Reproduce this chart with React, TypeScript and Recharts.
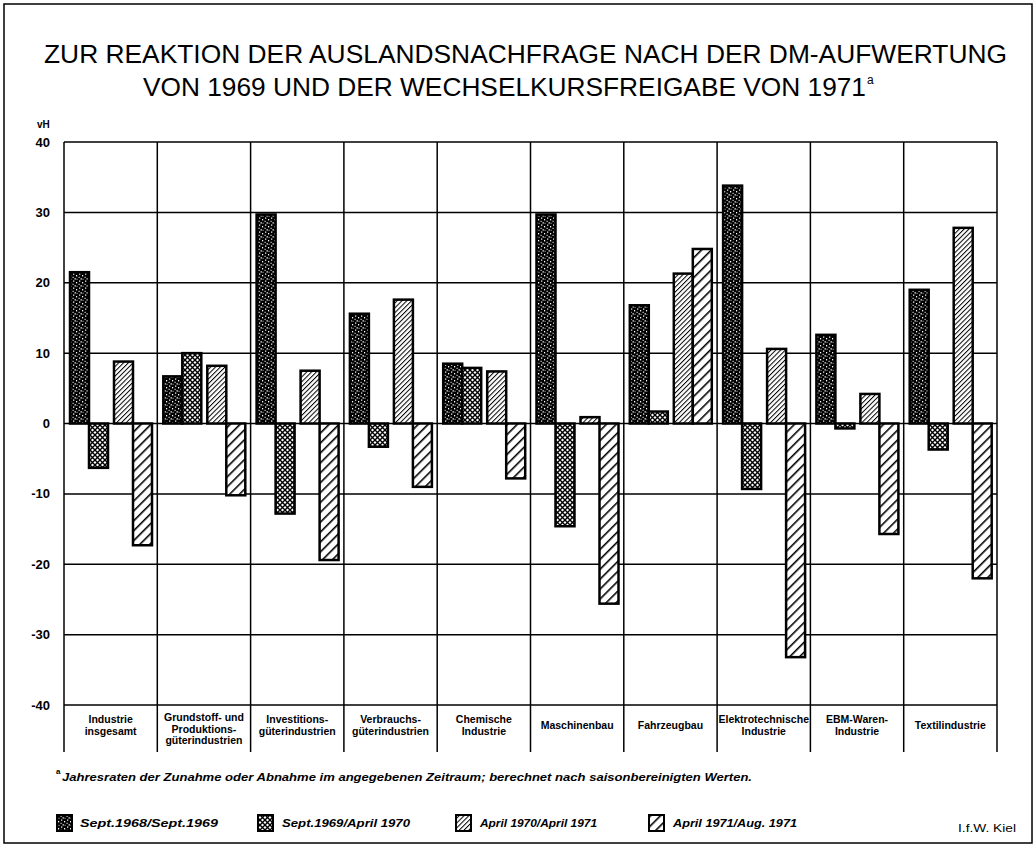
import { BarChart, Bar, XAxis, YAxis, CartesianGrid } from "recharts";

// Kategorien (Zeilenumbruch = \n)
const categories = [
  "Industrie\ninsgesamt",
  "Grundstoff- und\nProduktions-\ngüterindustrien",
  "Investitions-\ngüterindustrien",
  "Verbrauchs-\ngüterindustrien",
  "Chemische\nIndustrie",
  "Maschinenbau",
  "Fahrzeugbau",
  "Elektrotechnische\nIndustrie",
  "EBM-Waren-\nIndustrie",
  "Textilindustrie",
];

const seriesNames = [
  "Sept.1968/Sept.1969",
  "Sept.1969/April 1970",
  "April 1970/April 1971",
  "April 1971/Aug. 1971",
];

// Jahresraten in vH
const sept68Sept69 = [21.5, 6.7, 29.7, 15.6, 8.5, 29.7, 16.8, 33.8, 12.6, 19.0];
const sept69Apr70 = [-6.3, 10.0, -12.8, -3.3, 7.9, -14.6, 1.7, -9.3, -0.7, -3.7];
const apr70Apr71 = [8.8, 8.2, 7.5, 17.6, 7.4, 0.9, 21.3, 10.6, 4.2, 27.8];
const apr71Aug71 = [-17.3, -10.2, -19.4, -9.0, -7.8, -25.6, 24.8, -33.2, -15.7, -22.0];

const yTicks = [-40, -30, -20, -10, 0, 10, 20, 30, 40];

const data = categories.map((cat, i) => ({
  cat,
  s1: sept68Sept69[i],
  s2: sept69Apr70[i],
  s3: apr70Apr71[i],
  s4: apr71Aug71[i],
}));

const FONT = "'Liberation Sans', Arial, sans-serif";
const patternIds = ["pat1", "pat2", "pat3", "pat4"];
const PLOT_W = 1036 - 39 - 64;

function Patterns() {
  return (
    <svg width={0} height={0} style={{ position: "absolute" }}>
      <defs>
        <pattern id="pat1" width="6" height="7" patternUnits="userSpaceOnUse">
          <rect width="6" height="7" fill="#000" />
          <rect x="1" y="0.5" width="1.3" height="1.2" fill="#fff" />
          <rect x="4" y="2" width="1.2" height="1.4" fill="#fff" />
          <rect x="0.5" y="3.8" width="1.2" height="1" fill="#fff" />
          <rect x="2.5" y="5.3" width="1.4" height="1.2" fill="#fff" />
          <rect x="4.6" y="5.8" width="0.9" height="0.9" fill="#fff" />
        </pattern>
        <pattern id="pat2" width="5" height="5" patternUnits="userSpaceOnUse">
          <rect width="5" height="5" fill="#fff" />
          <path d="M0,0 L5,5 M5,0 L0,5" stroke="#000" strokeWidth="1.4" />
        </pattern>
        <pattern id="pat3" width="3.4" height="3.4" patternUnits="userSpaceOnUse" patternTransform="rotate(45)">
          <rect width="3.4" height="3.4" fill="#fff" />
          <line x1="0" y1="0" x2="0" y2="3.4" stroke="#000" strokeWidth="2" />
        </pattern>
        <pattern id="pat4" width="7" height="7" patternUnits="userSpaceOnUse" patternTransform="rotate(45)">
          <rect width="7" height="7" fill="#fff" />
          <line x1="0" y1="0" x2="0" y2="7" stroke="#000" strokeWidth="3.2" />
        </pattern>
      </defs>
    </svg>
  );
}

// Balken mit dickem Rand, Paare leicht auseinandergerückt
const makeShape = (fill: string, dx: number) => (props: any) => {
  const { x, y, width, height } = props;
  if (x == null || y == null || !height) return <g />;
  const top = height < 0 ? y + height : y;
  return (
    <rect
      x={x + dx}
      y={top}
      width={width}
      height={Math.abs(height)}
      fill={fill}
      stroke="#000"
      strokeWidth={2.5}
    />
  );
};

function CategoryTick(props: any) {
  const { x, y, payload, index } = props;
  const half = payload.offset || PLOT_W / categories.length / 2;
  const lines = String(payload.value).split("\n");
  const n = lines.length;
  const base = n === 1 ? 24 : n === 2 ? 18 : 16;
  const step = 11.5;
  return (
    <g>
      <line x1={x - half} x2={x - half} y1={y} y2={y + 47} stroke="#000" strokeWidth={1.5} />
      {index === categories.length - 1 && (
        <line x1={x + half} x2={x + half} y1={y} y2={y + 47} stroke="#000" strokeWidth={1.5} />
      )}
      <text textAnchor="middle" fontFamily={FONT} fontWeight="bold" fontSize={10.5} fill="#000">
        {lines.map((l, i) => (
          <tspan key={i} x={x} y={y + base + i * step}>
            {l}
          </tspan>
        ))}
      </text>
    </g>
  );
}

const legendPos = [
  { sx: 57, tx: 80, tw: 138 },
  { sx: 258, tx: 282, tw: 128 },
  { sx: 456, tx: 480, tw: 117 },
  { sx: 649, tx: 673, tw: 124 },
];

export default function App() {
  const keys = ["s1", "s2", "s3", "s4"];
  const shifts = [-3, -3, 3, 3];
  return (
    <div style={{ position: "absolute", left: 0, top: 0, width: 1036, height: 846, background: "#fff" }}>
      <Patterns />
      <BarChart
        width={1036}
        height={760}
        data={data}
        margin={{ top: 142, right: 39, left: 14, bottom: 8 }}
        barGap={0}
        barSize={19}
      >
        <CartesianGrid
          stroke="#000"
          strokeWidth={1.5}
          verticalCoordinatesGenerator={({ offset }: any) =>
            categories.map((_, i) => offset.left + (i * offset.width) / categories.length).concat(offset.left + offset.width)
          }
        />
        <XAxis
          dataKey="cat"
          height={47}
          interval={0}
          tickSize={0}
          tickMargin={0}
          axisLine={false}
          tickLine={false}
          tick={<CategoryTick />}
        />
        <YAxis
          width={50}
          domain={[-40, 40]}
          ticks={yTicks}
          interval={0}
          axisLine={false}
          tickLine={false}
          tickSize={0}
          tickMargin={14}
          tick={{ fontFamily: FONT, fontWeight: "bold", fontSize: 13, fill: "#000" }}
        />
        {keys.map((k, i) => (
          <Bar
            key={k}
            dataKey={k}
            name={seriesNames[i]}
            isAnimationActive={false}
            shape={makeShape(`url(#${patternIds[i]})`, shifts[i])}
          />
        ))}
      </BarChart>

      <svg
        width={1036}
        height={846}
        style={{ position: "absolute", left: 0, top: 0, pointerEvents: "none" }}
      >
        <rect x={4} y={4} width={1028} height={839} fill="none" stroke="#000" strokeWidth={1.5} />
        <text x={44} y={63} fontFamily={FONT} fontSize={25} textLength={963} lengthAdjust="spacingAndGlyphs" fill="#000">
          ZUR REAKTION DER AUSLANDSNACHFRAGE NACH DER DM-AUFWERTUNG
        </text>
        <text x={143} y={96} fontFamily={FONT} fontSize={25} textLength={723} lengthAdjust="spacingAndGlyphs" fill="#000">
          VON 1969 UND DER WECHSELKURSFREIGABE VON 1971
        </text>
        <text x={867} y={84} fontFamily={FONT} fontSize={12} fill="#000">a</text>
        <text x={37} y={128} fontFamily={FONT} fontWeight="bold" fontSize={10} fill="#000">vH</text>

        <text x={56} y={774} fontFamily={FONT} fontWeight="bold" fontSize={8} fill="#000">a</text>
        <text x={62} y={781} fontFamily={FONT} fontWeight="bold" fontStyle="italic" fontSize={10.5} textLength={690} lengthAdjust="spacingAndGlyphs" fill="#000">
          Jahresraten der Zunahme oder Abnahme im angegebenen Zeitraum; berechnet nach saisonbereinigten Werten.
        </text>

        {seriesNames.map((name, i) => (
          <g key={name}>
            <rect x={legendPos[i].sx} y={815} width={15} height={16} fill={`url(#${patternIds[i]})`} stroke="#000" strokeWidth={2} />
            <text x={legendPos[i].tx} y={827} fontFamily={FONT} fontWeight="bold" fontStyle="italic" fontSize={10} textLength={legendPos[i].tw} lengthAdjust="spacingAndGlyphs" fill="#000">
              {name}
            </text>
          </g>
        ))}
        <text x={958} y={832} fontFamily={FONT} fontSize={11} textLength={58} lengthAdjust="spacingAndGlyphs" fill="#000">
          I.f.W. Kiel
        </text>
      </svg>
    </div>
  );
}
